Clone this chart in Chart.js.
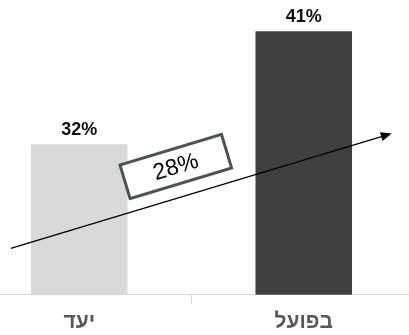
<!DOCTYPE html>
<html lang="he">
  <head>
    <meta charset="UTF-8" />
    <title>יעד מול בפועל</title>
    <script src="https://cdn.jsdelivr.net/npm/chart.js"></script>
    <style>
      html, body { margin: 0; padding: 0; background: #fff; overflow: hidden; }
      .wrap { position: absolute; left: -33px; top: 0; width: 449px; height: 343px; }
    </style>
  </head>
  <body>
    <div class="wrap"><canvas id="mychart" width="449" height="343"></canvas></div>
    <script>
      const categories = ["יעד", "בפועל"];
      const values = [32, 41];
      const valueLabels = ["32%", "41%"];

      // trend arrow, in chart units: [category index, value]
      const trendStart = [-0.305, 23.7];
      const trendEnd = [1.392, 32.86];
      const growthLabel = "28%";
      const growthAt = [0.43, 30.23];

      const FONT = "'Liberation Sans', Arial, sans-serif";

      const overlay = {
        id: "overlay",
        afterDatasetsDraw(chart) {
          const { ctx, scales } = chart;
          const x = scales.x, y = scales.y;

          // value labels over the bars
          const meta = chart.getDatasetMeta(0);
          ctx.save();
          ctx.font = "bold 18px " + FONT;
          ctx.fillStyle = "#111";
          ctx.textAlign = "center";
          ctx.textBaseline = "alphabetic";
          meta.data.forEach((bar, i) => {
            ctx.fillText(valueLabels[i], bar.x, bar.y - 9);
          });
          ctx.restore();

          // arrow
          const x0 = x.getPixelForValue(trendStart[0]), y0 = y.getPixelForValue(trendStart[1]);
          const x1 = x.getPixelForValue(trendEnd[0]), y1 = y.getPixelForValue(trendEnd[1]);
          const ang = Math.atan2(y1 - y0, x1 - x0);
          ctx.save();
          ctx.strokeStyle = "#000";
          ctx.fillStyle = "#000";
          ctx.lineWidth = 1.3;
          ctx.beginPath();
          ctx.moveTo(x0, y0);
          ctx.lineTo(x1 - 9 * Math.cos(ang), y1 - 9 * Math.sin(ang));
          ctx.stroke();
          ctx.translate(x1, y1);
          ctx.rotate(ang);
          ctx.beginPath();
          ctx.moveTo(0, 0);
          ctx.lineTo(-11, -4.5);
          ctx.lineTo(-11, 4.5);
          ctx.closePath();
          ctx.fill();
          ctx.restore();

          // growth box
          const bx = x.getPixelForValue(growthAt[0]), by = y.getPixelForValue(growthAt[1]);
          ctx.save();
          ctx.translate(bx, by);
          ctx.rotate(ang);
          ctx.fillStyle = "#fff";
          ctx.strokeStyle = "#4b5451";
          ctx.lineWidth = 3;
          ctx.beginPath();
          ctx.rect(-53, -17.5, 106, 35);
          ctx.fill();
          ctx.stroke();
          ctx.fillStyle = "#000";
          ctx.font = "23px " + FONT;
          ctx.textAlign = "center";
          ctx.textBaseline = "middle";
          ctx.fillText(growthLabel, 0, 1);
          ctx.restore();
        },
      };

      const ctx = document.getElementById("mychart").getContext("2d");
      const myChart = new Chart(ctx, {
        type: "bar",
        data: {
          labels: categories,
          datasets: [
            {
              data: values,
              backgroundColor: ["#d9d9d9", "#404040"],
              borderWidth: 0,
              barPercentage: 0.43,
              categoryPercentage: 1,
            },
          ],
        },
        options: {
          responsive: false,
          animation: false,
          devicePixelRatio: 1,
          layout: { padding: { top: 0, bottom: 2, left: 0, right: 0 } },
          plugins: { legend: { display: false }, tooltip: { enabled: false } },
          scales: {
            y: { display: false, min: 20, max: 43.5 },
            x: {
              grid: { drawOnChartArea: false, drawTicks: true, tickLength: 9, color: "#d9d9d9" },
              border: { display: true, color: "#d9d9d9", width: 1 },
              ticks: { color: "#595959", padding: 6, font: { family: FONT, size: 21, weight: "bold" } },
            },
          },
        },
        plugins: [overlay],
      });
    </script>
  </body>
</html>
